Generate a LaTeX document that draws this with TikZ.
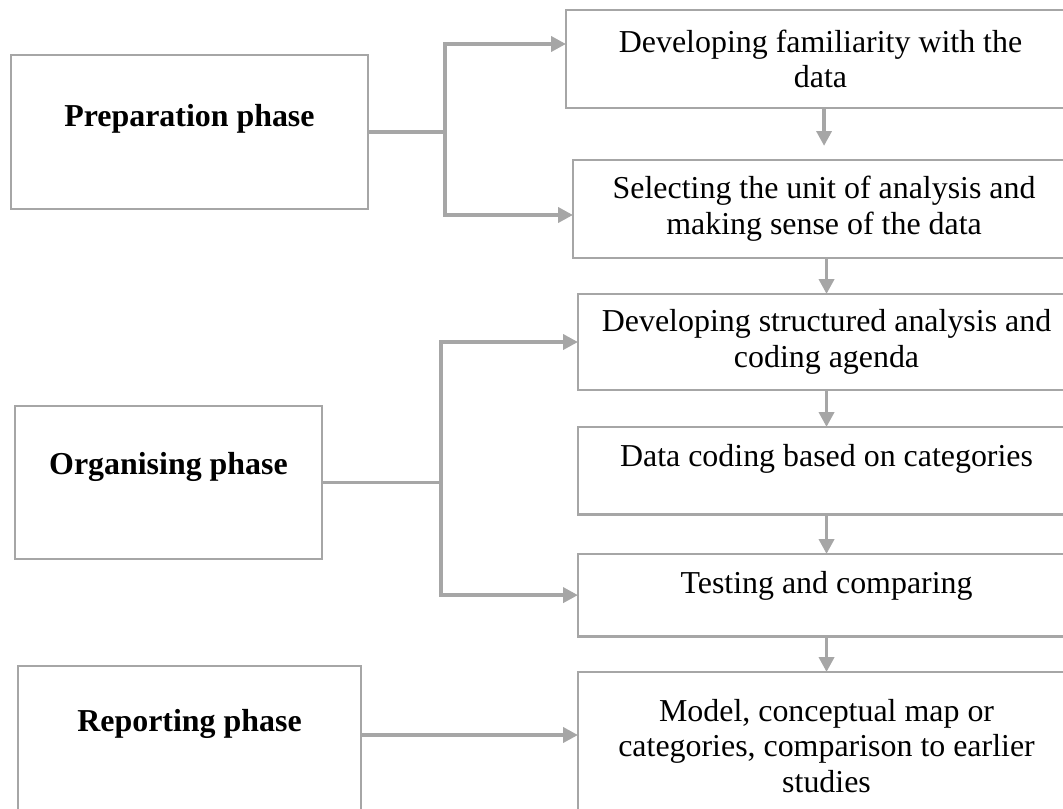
\documentclass[tikz,border=0pt]{standalone}
\usepackage{fontspec}
\setmainfont{Liberation Serif}
\usetikzlibrary{arrows.meta}
\definecolor{linegray}{HTML}{A6A6A6}

\begin{document}
\begin{tikzpicture}[x=0.376pt, y=-0.376pt,
		every node/.style={
			rectangle,
			draw=linegray,
			line width=1pt,
			outer sep=0pt,
			anchor=north west,
			align=center,
			font=\fontsize{12}{13.4}\selectfont
		},
		phase/.style={
			inner ysep=0pt,
			font=\fontsize{12}{13.4}\selectfont\bfseries
		},
		stage/.style={
			minimum width=186.9pt
		},
		link/.style={
			draw=linegray,
			line width=1.4pt
		},
		arr/.style={
			link,
			-{Triangle[length=5.6pt,width=5.6pt]}
		},
		fork/.style={
			link,
			{Triangle[length=5.6pt,width=5.6pt]}-{Triangle[length=5.6pt,width=5.6pt]}
		}]

		\useasboundingbox (0,0) rectangle (1063,808);
		\clip (0,0) rectangle (1063,808);

		%phases
		\node[phase, minimum width=134.2pt, text height=26.7pt, text depth=31.2pt] (prep) at (11,55) {Preparation phase};
		\node[phase, minimum width=115.4pt, text height=25.9pt, text depth=31.6pt] (org) at (15,406) {Organising phase};
		\node[phase, minimum width=129.0pt, text height=24.8pt, text depth=33.1pt] (rep) at (18,666) {Reporting phase};

		%steps
		\node[minimum width=191.4pt, minimum height=36.8pt] (dev) at (566,10) {Developing familiarity with the\\data};
		\node[minimum width=188.8pt, minimum height=36.8pt] (sel) at (573,160) {Selecting the unit of analysis and\\making sense of the data};
		\node[stage, minimum height=36.1pt] (struct) at (578,294) {Developing structured analysis and\\coding agenda};
		\node[stage, inner ysep=0pt, text height=15pt, text depth=18pt] (code) at (578,427) {Data coding based on categories};
		\node[stage, inner ysep=0pt, text height=14.7pt, text depth=16.2pt] (test) at (578,554) {Testing and comparing};
		\node[stage, minimum height=55.6pt] (model) at (578,672) {Model, conceptual map or\\categories, comparison to earlier\\studies};

		\coordinate (pa) at (445,44);
		\coordinate (pb) at (445,215);
		\coordinate (oj) at (441,0);
		\coordinate (rl) at (0,735);

		%connectors
		\draw[link] (prep.east) -- (prep.east -| pa);
		\draw[fork] (dev.west |- pa) -- (pa) -- (pb) -- (sel.west |- pb);
		\draw[link] (org.east) -- (org.east -| oj);
		\draw[fork] (struct.west) -- (struct.west -| oj) -- (test.west -| oj) -- (test.west);
		\draw[arr] (rep.east |- rl) -- (model.west |- rl);

		\draw[arr, shorten >=5.3pt] (dev.south -| sel.north) -- (sel.north);
		\foreach \a/\b in {sel/struct, struct/code, code/test, test/model}
			\draw[arr] (\a.south -| \b.north) -- (\b.north);

	\end{tikzpicture}
\end{document}
